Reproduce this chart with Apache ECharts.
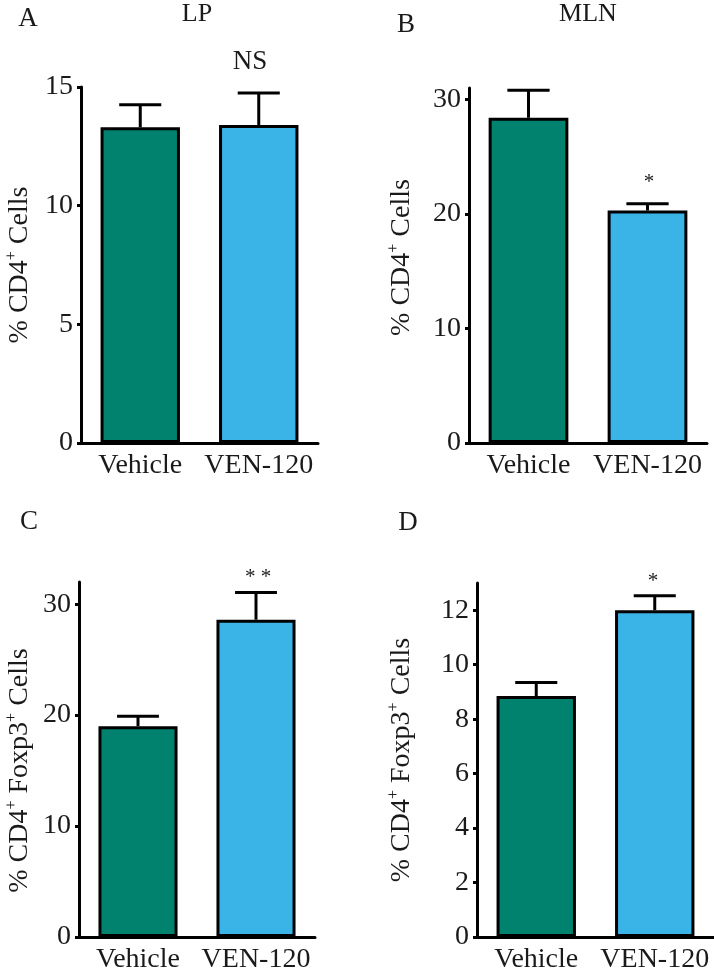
<!DOCTYPE html>
<html>
<head>
<meta charset="utf-8">
<script src="https://cdn.jsdelivr.net/npm/echarts@6/dist/echarts.min.js"></script>
<style>
html,body{margin:0;padding:0;background:#fff;}
#chart{width:714px;height:976px;}
</style>
</head>
<body>
<div id="chart"></div>
<script>
// ---- data ----
var categories = ['Vehicle', 'VEN-120'];
var lpMean = [13.3, 13.4];
var lpErr = [0.95, 1.35];
var mlnMean = [28.4, 20.3];
var mlnErr = [2.4, 0.6];
var tregLpMean = [19.0, 28.6];
var tregLpErr = [0.9, 2.45];
var tregMlnMean = [8.85, 12.0];
var tregMlnErr = [0.5, 0.53];
var ticksA = [0, 5, 10, 15];
var ticksB = [0, 10, 20, 30];
var ticksC = [0, 10, 20, 30];
var ticksD = [0, 2, 4, 6, 8, 10, 12];
var barColors = ['#00826F', '#3AB4E6'];

var FONT = '"Liberation Serif", "Times New Roman", serif';
var TXT = '#1a1a1a';

var panels = [
  {mean: lpMean, err: lpErr, ticks: ticksA, max: 15, interval: 5,
   grid: {left: 81, top: 87, width: 237, height: 356}, nameGap: 45, namePad: [0, 0, 0, 0],
   name: '{t|% CD4}{s|+}{t| Cells}'},
  {mean: mlnMean, err: mlnErr, ticks: ticksB, max: 31, interval: 10,
   grid: {left: 469, top: 88, width: 238, height: 355}, nameGap: 51, namePad: [0, 0, 0, 16],
   name: '{t|% CD4}{s|+}{t| Cells}'},
  {mean: tregLpMean, err: tregLpErr, ticks: ticksC, max: 32, interval: 10,
   grid: {left: 79, top: 582, width: 236, height: 355}, nameGap: 43, namePad: [0, 22, 0, 0],
   name: '{t|% CD4}{s|+}{t| Foxp3}{s|+}{t| Cells}'},
  {mean: tregMlnMean, err: tregMlnErr, ticks: ticksD, max: 13, interval: 2,
   grid: {left: 477, top: 583, width: 237, height: 354}, nameGap: 59, namePad: [0, 0, 0, 0],
   name: '{t|% CD4}{s|+}{t| Foxp3}{s|+}{t| Cells}'}
];

var grids = [], xAxes = [], yAxes = [], series = [];
panels.forEach(function (p, i) {
  grids.push(p.grid);
  xAxes.push({
    type: 'category', gridIndex: i, data: categories,
    axisLine: {lineStyle: {color: '#000', width: 3}},
    axisTick: {alignWithLabel: true, length: 5, lineStyle: {color: '#000', width: 3}},
    axisLabel: {fontFamily: FONT, fontSize: 28, color: TXT, margin: 9, interval: 0, hideOverlap: false}
  });
  yAxes.push({
    type: 'value', gridIndex: i, min: 0, max: p.max, interval: p.interval,
    splitLine: {show: false},
    axisLine: {show: true, lineStyle: {color: '#000', width: 3}},
    axisTick: {show: true, length: 4, lineStyle: {color: '#000', width: 3}, customValues: p.ticks},
    axisLabel: {fontFamily: FONT, fontSize: 28, color: TXT, margin: 8, customValues: p.ticks},
    name: p.name, nameLocation: 'middle', nameGap: p.nameGap, nameRotate: 90,
    nameTextStyle: {
      color: TXT,
      padding: p.namePad,
      rich: {
        t: {fontFamily: FONT, fontSize: 28, color: TXT, lineHeight: 32},
        s: {fontFamily: FONT, fontSize: 16, color: TXT, lineHeight: 19, verticalAlign: 'top'}
      }
    }
  });
  series.push({
    type: 'bar', xAxisIndex: i, yAxisIndex: i, barWidth: '67%',
    data: p.mean.map(function (v, k) {
      return {value: v, itemStyle: {color: barColors[k]}};
    }),
    itemStyle: {borderColor: '#000', borderWidth: 3},
    z: 2
  });
  series.push({
    type: 'custom', xAxisIndex: i, yAxisIndex: i, z: 1,
    data: p.mean.map(function (v, k) { return [k, v, p.err[k]]; }),
    renderItem: function (params, api) {
      var k = api.value(0), m = api.value(1), e = api.value(2);
      var base = api.coord([k, m]);
      var top = api.coord([k, m + e]);
      var bw = api.size([1, 0])[0] * 0.355;
      var st = {stroke: '#000', lineWidth: 3};
      return {
        type: 'group',
        children: [
          {type: 'line', shape: {x1: base[0], y1: base[1], x2: top[0], y2: top[1]}, style: st},
          {type: 'line', shape: {x1: top[0] - bw / 2, y1: top[1], x2: top[0] + bw / 2, y2: top[1]}, style: st}
        ]
      };
    }
  });
});

function txt(t, x, y, size) {
  return {type: 'text', x: x, y: y,
    style: {text: t, fill: TXT, font: size + 'px ' + FONT, align: 'center', verticalAlign: 'middle'}};
}

var chart = echarts.init(document.getElementById('chart'), null, {renderer: 'canvas'});
chart.setOption({
  animation: false,
  backgroundColor: '#fff',
  grid: grids, xAxis: xAxes, yAxis: yAxes, series: series,
  graphic: [
    txt('A', 28, 19, 27), txt('LP', 197, 14, 26),
    txt('B', 406, 25, 27), txt('MLN', 588, 14, 26),
    txt('C', 29, 522, 27), txt('D', 408, 523, 27),
    txt('NS', 250, 62, 27),
    txt('*', 649, 182, 21),
    txt('* *', 258, 577, 21),
    txt('*', 653, 581, 21)
  ]
});
</script>
</body>
</html>
